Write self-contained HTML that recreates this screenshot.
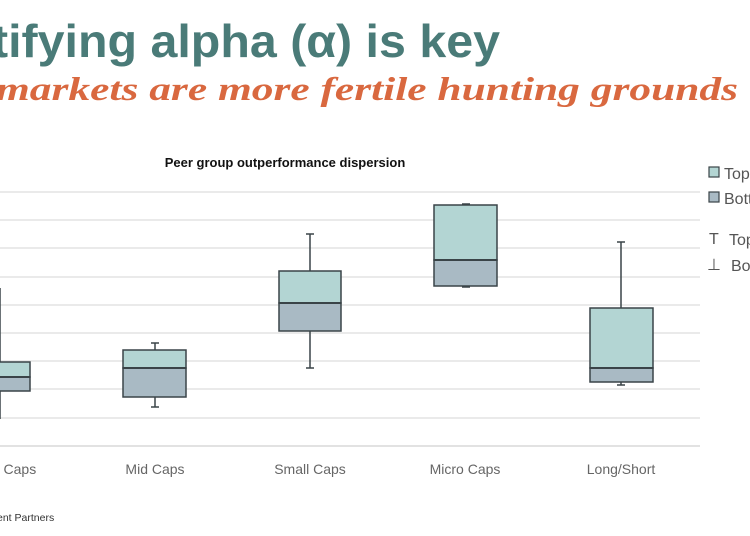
<!DOCTYPE html>
<html><head><meta charset="utf-8"><style>
html,body{margin:0;padding:0;background:#fff;width:750px;height:536px;overflow:hidden}
</style></head><body>
<svg width="750" height="536" xmlns="http://www.w3.org/2000/svg" font-family="Liberation Sans, DejaVu Sans, sans-serif">
<text x="-8" y="57" font-size="46" font-weight="bold" fill="#4a7b78" textLength="508" lengthAdjust="spacingAndGlyphs">tifying alpha (α) is key</text>
<text x="-4" y="100" font-family="Liberation Serif, serif" font-size="33" font-weight="bold" font-style="italic" fill="#d9683f" textLength="742" lengthAdjust="spacingAndGlyphs">markets are more fertile hunting grounds</text>
<text x="285" y="167" font-size="13" font-weight="bold" fill="#111" text-anchor="middle">Peer group outperformance dispersion</text>
<g stroke="#e4e4e4" stroke-width="1.5">
<line x1="0" x2="700" y1="192" y2="192"/><line x1="0" x2="700" y1="220" y2="220"/>
<line x1="0" x2="700" y1="248" y2="248"/><line x1="0" x2="700" y1="277" y2="277"/>
<line x1="0" x2="700" y1="305" y2="305"/><line x1="0" x2="700" y1="333" y2="333"/>
<line x1="0" x2="700" y1="361" y2="361"/><line x1="0" x2="700" y1="389" y2="389"/>
<line x1="0" x2="700" y1="418" y2="418"/><line x1="0" x2="700" y1="446" y2="446" stroke="#d8d8d8"/>
</g>
<g stroke="#3a4448" stroke-width="1.5">
<line x1="0" x2="0" y1="288" y2="419"/>
<rect x="-34" y="362" width="64" height="15" fill="#b3d5d3"/><rect x="-34" y="377" width="64" height="14" fill="#a9bac4"/><line x1="-34" x2="30" y1="377" y2="377" stroke-width="2"/>
<line x1="155" x2="155" y1="343" y2="407"/><line x1="151" x2="159" y1="343" y2="343"/><line x1="151" x2="159" y1="407" y2="407"/>
<rect x="123" y="350" width="63" height="18" fill="#b3d5d3"/><rect x="123" y="368" width="63" height="29" fill="#a9bac4"/><line x1="123" x2="186" y1="368" y2="368" stroke-width="2"/>
<line x1="310" x2="310" y1="234" y2="368"/><line x1="306" x2="314" y1="234" y2="234"/><line x1="306" x2="314" y1="368" y2="368"/>
<rect x="279" y="271" width="62" height="32" fill="#b3d5d3"/><rect x="279" y="303" width="62" height="28" fill="#a9bac4"/><line x1="279" x2="341" y1="303" y2="303" stroke-width="2"/>
<line x1="462" x2="470" y1="204" y2="204"/><line x1="462" x2="470" y1="287" y2="287"/>
<rect x="434" y="205" width="63" height="55" fill="#b3d5d3"/><rect x="434" y="260" width="63" height="26" fill="#a9bac4"/><line x1="434" x2="497" y1="260" y2="260" stroke-width="2"/>
<line x1="621" x2="621" y1="242" y2="385"/><line x1="617" x2="625" y1="242" y2="242"/><line x1="617" x2="625" y1="385" y2="385"/>
<rect x="590" y="308" width="63" height="60" fill="#b3d5d3"/><rect x="590" y="368" width="63" height="14" fill="#a9bac4"/><line x1="590" x2="653" y1="368" y2="368" stroke-width="2"/>
</g>
<g font-size="14" fill="#666" text-anchor="middle">
<text x="0" y="474">Large Caps</text><text x="155" y="474">Mid Caps</text><text x="310" y="474">Small Caps</text><text x="465" y="474">Micro Caps</text><text x="621" y="474">Long/Short</text>
</g>
<text x="-3" y="521" font-size="10.5" fill="#333">ent Partners</text>
<g stroke="#3a4448" stroke-width="1.2">
<rect x="709" y="167" width="10" height="10" fill="#b3d5d3"/>
<rect x="709" y="192" width="10" height="10" fill="#a9bac4"/>
</g>
<g font-size="16" fill="#555">
<text x="724" y="179">Top</text><text x="724" y="204">Bottom</text>
<text x="709" y="244">T</text><text x="729" y="245">Top</text>
<text x="707" y="270">⊥</text><text x="731" y="271">Bottom</text>
</g>
</svg>
</body></html>
